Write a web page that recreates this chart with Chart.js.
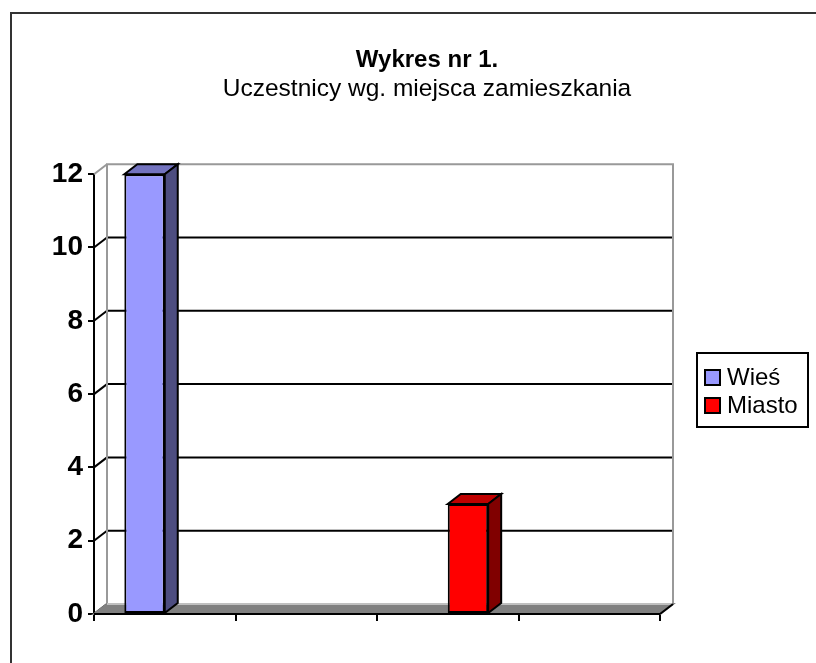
<!DOCTYPE html>
<html>
<head>
<meta charset="utf-8">
<script src="https://cdn.jsdelivr.net/npm/chart.js@4.4.1/dist/chart.umd.min.js"></script>
<style>
  html, body { margin: 0; padding: 0; background: #fff; }
</style>
</head>
<body>
<canvas id="chart" width="816" height="663"></canvas>
<script>
const categories = ['', '', '', ''];
const seriesNames = ['Wieś', 'Miasto'];
const wiesValues = [12, null, null, null];
const miastoValues = [null, null, 3, null];
const yMax = 12;
const yStep = 2;

const frontColors = ['#9999FF', '#FF0000'];
const topColors = ['#7373BF', '#BF0000'];
const sideColors = ['#4D4D80', '#800000'];

const font = "Arial, 'Liberation Sans', sans-serif";
const dx = 13, dy = 10;

function seg(ctx, x1, y1, x2, y2) {
    ctx.beginPath();
    ctx.moveTo(x1, y1);
    ctx.lineTo(x2, y2);
    ctx.stroke();
}

function poly(ctx, pts, fill) {
    ctx.beginPath();
    ctx.moveTo(pts[0][0], pts[0][1]);
    for (let i = 1; i < pts.length; i++) ctx.lineTo(pts[i][0], pts[i][1]);
    ctx.closePath();
    ctx.fillStyle = fill;
    ctx.fill();
    ctx.stroke();
}

// fake 3D: back wall, floor and bar sides
const excel3d = {
    id: 'excel3d',
    beforeDatasetsDraw(chart) {
        const { ctx, chartArea: a, scales: { y } } = chart;
        ctx.save();
        ctx.lineWidth = 2;
        y.ticks.forEach(t => {
            const py = y.getPixelForValue(t.value);
            ctx.strokeStyle = '#000';
            if (t.value > 0 && t.value < yMax) seg(ctx, a.left + dx, py - dy, a.right + dx, py - dy);
            ctx.strokeStyle = t.value === yMax ? '#999' : '#000';
            seg(ctx, a.left, py, a.left + dx, py - dy);
        });
        // wall edges
        ctx.strokeStyle = '#999';
        ctx.beginPath();
        ctx.moveTo(a.left + dx, a.bottom - dy);
        ctx.lineTo(a.left + dx, a.top - dy);
        ctx.lineTo(a.right + dx, a.top - dy);
        ctx.lineTo(a.right + dx, a.bottom - dy);
        ctx.stroke();
        // floor
        ctx.strokeStyle = '#808080';
        poly(ctx, [[a.left, a.bottom], [a.right, a.bottom], [a.right + dx, a.bottom - dy], [a.left + dx, a.bottom - dy]], '#808080');
        ctx.strokeStyle = '#c0c0c0';
        seg(ctx, a.left + dx, a.bottom - dy, a.right + dx, a.bottom - dy);
        ctx.strokeStyle = '#000';
        seg(ctx, a.left, a.bottom, a.right, a.bottom);
        seg(ctx, a.right, a.bottom, a.right + dx, a.bottom - dy);
        ctx.restore();
    },
    afterDatasetsDraw(chart) {
        const ctx = chart.ctx;
        ctx.save();
        ctx.lineWidth = 2;
        ctx.strokeStyle = '#000';
        chart.data.datasets.forEach((ds, i) => {
            const meta = chart.getDatasetMeta(i);
            meta.data.forEach((bar, j) => {
                if (ds.data[j] == null) return;
                const { x, y, base, width } = bar.getProps(['x', 'y', 'base', 'width'], true);
                const l = x - width / 2, r = x + width / 2;
                poly(ctx, [[l, y], [l + dx, y - dy], [r + dx, y - dy], [r, y]], topColors[i]);
                poly(ctx, [[r, y], [r + dx, y - dy], [r + dx, base - dy], [r, base]], sideColors[i]);
            });
        });
        ctx.restore();
    },
    afterDraw(chart) {
        const ctx = chart.ctx;
        ctx.save();
        // outer frame
        ctx.lineWidth = 2;
        ctx.strokeStyle = '#333';
        ctx.beginPath();
        ctx.moveTo(11, 663);
        ctx.lineTo(11, 13);
        ctx.lineTo(816, 13);
        ctx.stroke();
        // legend
        ctx.strokeStyle = '#000';
        ctx.strokeRect(697, 353, 111, 74);
        ctx.font = '24px ' + font;
        ctx.textBaseline = 'middle';
        chart.data.datasets.forEach((ds, i) => {
            const cy = 377 + i * 28;
            ctx.fillStyle = ds.backgroundColor;
            ctx.fillRect(705, cy - 7, 15, 15);
            ctx.strokeRect(705, cy - 7, 15, 15);
            ctx.fillStyle = '#000';
            ctx.fillText(ds.label, 727, cy + 1);
        });
        ctx.restore();
    }
};

new Chart(document.getElementById('chart'), {
    type: 'bar',
    data: {
        labels: categories,
        datasets: [{
            label: seriesNames[0],
            data: wiesValues,
            backgroundColor: frontColors[0],
            borderColor: '#000',
            borderWidth: 2,
            borderSkipped: false
        }, {
            label: seriesNames[1],
            data: miastoValues,
            backgroundColor: frontColors[1],
            borderColor: '#000',
            borderWidth: 2,
            borderSkipped: false
        }]
    },
    options: {
        responsive: false,
        animation: false,
        categoryPercentage: 2 / 3.5,
        barPercentage: 1,
        layout: {
            padding: { left: 38, right: 0, top: 46, bottom: 0 }
        },
        scales: {
            x: {
                grid: { offset: true, drawOnChartArea: false, color: '#000', lineWidth: 2, tickLength: 7 },
                border: { color: '#000', width: 2 },
                ticks: { display: false },
                afterFit(s) { s.height = 49; }
            },
            y: {
                min: 0,
                max: yMax,
                ticks: { stepSize: yStep, color: '#000', padding: 5, font: { family: font, size: 28, weight: 'bold' } },
                grid: { drawOnChartArea: false, color: '#000', lineWidth: 2, tickLength: 6 },
                border: { color: '#000', width: 2 },
                afterFit(s) { s.width = 56; }
            },
            // empty right gutter where the legend sits
            gutter: {
                type: 'linear',
                position: 'right',
                display: true,
                grid: { display: false },
                ticks: { display: false },
                border: { display: false },
                afterFit(s) { s.width = 156; }
            }
        },
        plugins: {
            legend: { display: false },
            tooltip: { enabled: false },
            title: {
                display: true,
                text: 'Wykres nr 1.',
                color: '#000',
                font: { family: font, size: 24, weight: 'bold' },
                padding: { top: 0, bottom: 0 }
            },
            subtitle: {
                display: true,
                text: 'Uczestnicy wg. miejsca zamieszkania',
                color: '#000',
                font: { family: font, size: 24.5, weight: 'normal' },
                padding: { top: 0, bottom: 70 }
            }
        }
    },
    plugins: [excel3d]
});
</script>
</body>
</html>
